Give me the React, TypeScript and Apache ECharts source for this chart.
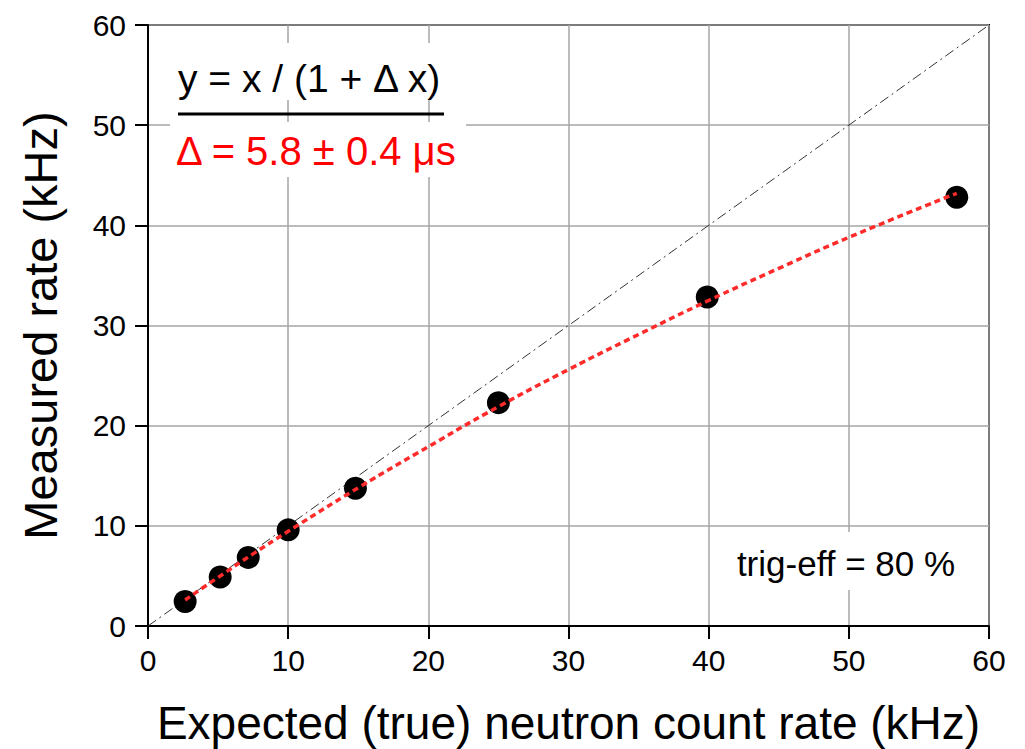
import React, { useEffect, useRef } from "react";
import * as echarts from "echarts";

const xTicks = [0, 10, 20, 30, 40, 50, 60];
const yTicks = [0, 10, 20, 30, 40, 50, 60];
const expectedRate = [2.65, 5.15, 7.15, 10.0, 14.8, 25.0, 39.9, 57.7];
const measuredRate = [2.45, 4.9, 6.85, 9.6, 13.75, 22.3, 32.85, 42.8];
const fitX = [2.65, 5, 7.5, 10, 15, 20, 25, 30, 35, 40, 45, 50, 57.7];
const fitY = [2.6, 4.85, 7.2, 9.45, 13.8, 17.9, 21.9, 25.6, 29.1, 32.5, 35.7, 38.8, 43.2];
const diagonal = [[0, 0], [60, 60]];

const FONT = "'Liberation Sans', Arial, sans-serif";

export default function App() {
  const ref = useRef<HTMLDivElement>(null);
  useEffect(() => {
    if (!ref.current) return;
    const chart = echarts.init(ref.current, undefined, { renderer: "svg" });
    const L = 148, T = 25, W = 841, H = 601;
    chart.setOption({
      animation: false,
      backgroundColor: "#fff",
      grid: {
        left: L, top: T, width: W, height: H, show: true, borderColor: "#000", borderWidth: 2,
        backgroundColor: "transparent", outerBoundsMode: "none", containLabel: false,
      },
      xAxis: {
        type: "value", min: 0, max: 60, interval: 10,
        name: "Expected (true) neutron count rate (kHz)",
        nameLocation: "middle", nameGap: 74,
        nameTextStyle: { fontFamily: FONT, fontSize: 46, color: "#000" },
        axisLine: { show: true, lineStyle: { color: "#000", width: 2 } },
        axisTick: { show: true, inside: false, length: 13, lineStyle: { color: "#000", width: 2 } },
        axisLabel: { fontFamily: FONT, fontSize: 30, color: "#000", margin: 19, formatter: (v: number) => (xTicks.includes(v) ? String(v) : "") },
        splitLine: { show: true, lineStyle: { color: "#a6a6a6", width: 1.5 } },
      },
      yAxis: {
        type: "value", min: 0, max: 60, interval: 10,
        name: "Measured rate (kHz)",
        nameLocation: "middle", nameGap: 84,
        nameTextStyle: { fontFamily: FONT, fontSize: 47, color: "#000" },
        axisLine: { show: true, lineStyle: { color: "#000", width: 2 } },
        axisTick: { show: true, inside: false, length: 13, lineStyle: { color: "#000", width: 2 } },
        axisLabel: { fontFamily: FONT, fontSize: 30, color: "#000", margin: 22, formatter: (v: number) => (yTicks.includes(v) ? String(v) : "") },
        splitLine: { show: true, lineStyle: { color: "#a6a6a6", width: 1.5 } },
      },
      series: [
        {
          type: "line", data: diagonal, symbol: "none", silent: true, z: 2,
          lineStyle: { color: "#333", width: 1, type: [10, 4, 2, 4] },
        },
        {
          type: "scatter", data: expectedRate.map((x, i) => [x, measuredRate[i]]),
          symbol: "circle", symbolSize: 23, itemStyle: { color: "#000", opacity: 1 }, z: 3,
        },
        {
          type: "line", data: fitX.map((x, i) => [x, fitY[i]]), symbol: "none", smooth: true, z: 4,
          lineStyle: { color: "#ff2a2a", width: 3.5, type: [6, 4] },
        },
      ],
      graphic: [
        { type: "rect", shape: { x: 175, y: 43, width: 272, height: 57 }, style: { fill: "#fff" }, z: 10 },
        { type: "rect", shape: { x: 170, y: 122, width: 296, height: 55 }, style: { fill: "#fff" }, z: 10 },
        { type: "rect", shape: { x: 720, y: 532, width: 250, height: 58 }, style: { fill: "#fff" }, z: 10 },
        {
          type: "text", x: 178, y: 78, z: 11,
          style: { text: "y = x / (1 + Δ x)", fontFamily: FONT, fontSize: 39, fill: "#000", textVerticalAlign: "middle", textAlign: "left" },
        },
        { type: "line", shape: { x1: 178, y1: 114, x2: 444, y2: 114 }, style: { stroke: "#000", lineWidth: 3 }, z: 11 },
        {
          type: "text", x: 176, y: 151, z: 11,
          style: { text: "Δ = 5.8 ± 0.4 μs", fontFamily: FONT, fontSize: 40, fill: "#ff0000", textVerticalAlign: "middle", textAlign: "left" },
        },
        {
          type: "text", x: 846, y: 563, z: 11,
          style: { text: "trig-eff = 80 %", fontFamily: FONT, fontSize: 35, fill: "#000", textVerticalAlign: "middle", textAlign: "center" },
        },
      ],
    });
    return () => chart.dispose();
  }, []);
  return <div ref={ref} style={{ position: "fixed", left: 0, top: 0, width: 1025, height: 749 }} />;
}
